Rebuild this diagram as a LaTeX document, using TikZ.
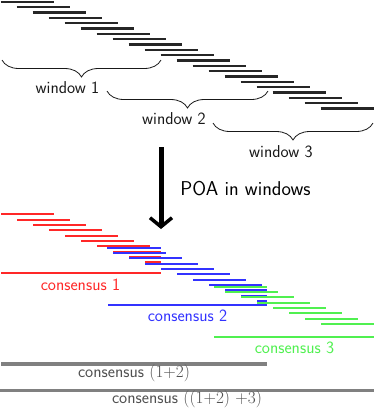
\documentclass[tikz,border=0pt]{standalone}
\usetikzlibrary{decorations.pathreplacing,arrows.meta}
\definecolor{myred}{RGB}{255,40,40}
\definecolor{myblue}{RGB}{50,50,255}
\definecolor{mygreen}{RGB}{80,240,80}
\definecolor{grayline}{RGB}{128,128,128}
\definecolor{graytext}{RGB}{80,80,80}
\definecolor{darktext}{RGB}{25,25,25}
\begin{document}
\begin{tikzpicture}[x=1pt,y=-1pt,
  readline/.style={line width=2.3pt,black!85},
  redline/.style={line width=2pt,myred},
  blueline/.style={line width=2pt,myblue},
  greenline/.style={line width=2pt,mygreen},
  consline/.style={line width=3.2pt,grayline},
  winbrace/.style={decorate,decoration={brace,mirror,amplitude=17pt},line width=0.8pt,darktext},
  lbl/.style={font=\sffamily\fontsize{17.2}{20}\selectfont,inner sep=0pt},
  bigarrow/.style={line width=5pt,-{Straight Barb[length=9pt,width=22pt,line width=3.5pt]}}]
\useasboundingbox (0,0) rectangle (374,408);
% reads
\foreach \i in {0,...,20}{
  \draw[readline] ({16*\i+0.5},{1.8+5.33*\i}) -- ++(53.5,0);
}
% braces
\draw[winbrace] (2,60) -- (161,60);
\draw[winbrace] (107,91) -- (268,91);
\draw[winbrace] (213,123) -- (373,123);
\node[lbl,darktext] (w1) at (67.5,88) {window 1};
\node[lbl,darktext] (w2) at (174,118.5) {window 2};
\node[lbl,darktext] (w3) at (281,151.5) {window 3};
% arrow
\coordinate (as) at (161,147);
\coordinate (ae) at (161,229);
\draw[bigarrow] (as) -- (ae);
\node[font=\sffamily\fontsize{20}{24}\selectfont,inner sep=0pt,black] (poa) at (245.5,189) {POA in windows};
% red window
\foreach \i in {0,...,9}{
  \pgfmathsetmacro{\xs}{16*\i+1}
  \pgfmathsetmacro{\xe}{min(16*\i+54,161)}
  \draw[redline] (\xs,{214.3+5.33*\i}) -- (\xe,{214.3+5.33*\i});
}
\draw[redline] (1,273.3) -- (161,273.3);
% blue window
\draw[blueline] (107,247.8) -- (161,247.8);
\foreach \i in {7,...,16}{
  \pgfmathsetmacro{\xs}{16*\i+1}
  \pgfmathsetmacro{\xe}{min(16*\i+54,267)}
  \draw[blueline] (\xs,{215.8+5.33*\i}) -- (\xe,{215.8+5.33*\i});
}
\draw[blueline] (108,305) -- (267,305);
% green window
\draw[greenline] (214,286.7) -- (267,286.7);
\foreach \i in {14,...,20}{
  \pgfmathsetmacro{\xs}{16*\i+1}
  \pgfmathsetmacro{\xe}{min(16*\i+54,374)}
  \draw[greenline] (\xs,{217.4+5.33*\i}) -- (\xe,{217.4+5.33*\i});
}
\draw[greenline] (214,337.3) -- (374,337.3);
% labels
\node[lbl,myred] (c1) at (80.5,284.5) {consensus 1};
\node[lbl,myblue] (c2) at (187.5,316) {consensus 2};
\node[lbl,mygreen] (c3) at (294.5,347.5) {consensus 3};
% merged consensus
\draw[consline] (1,364) -- (267,364);
\node[lbl,graytext] (c12) at (134,373) {consensus $(1{+}2)$};
\draw[consline] (0,390.3) -- (374,390.3);
\node[lbl,graytext] (c123) at (187,399.5) {consensus $((1{+}2)$ $+3)$};
\end{tikzpicture}
\end{document}
